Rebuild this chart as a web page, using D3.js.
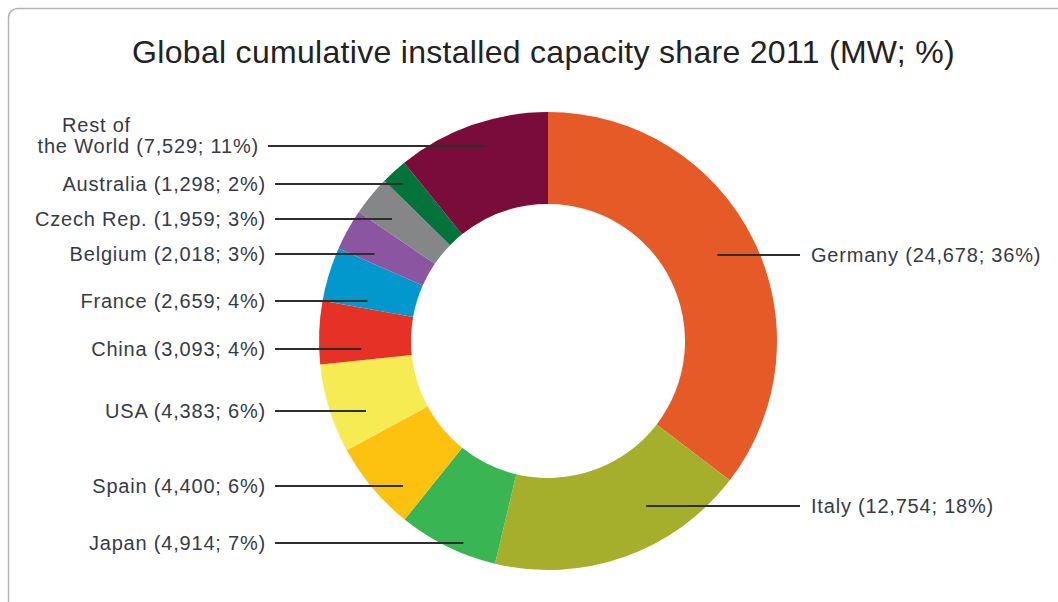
<!DOCTYPE html>
<html>
<head>
<meta charset="utf-8">
<script src="https://cdn.jsdelivr.net/npm/d3@7"></script>
<style>
  html, body { margin: 0; padding: 0; background: #fff; }
  svg { display: block; }
</style>
</head>
<body>
<svg id="chart" width="1058" height="602"></svg>
<script>
// ---- data ----
const countries = ["Germany", "Italy", "Japan", "Spain", "USA", "China", "France", "Belgium", "Czech Rep.", "Australia", "Rest of the World"];
const capacityMW = [24678, 12754, 4914, 4400, 4383, 3093, 2659, 2018, 1959, 1298, 7529];
const sharePct = [36, 18, 7, 6, 6, 4, 4, 3, 3, 2, 11];
const colors = ["#E65A28", "#A6AF2B", "#3AB554", "#FDC10F", "#F6EB52", "#E53126", "#0398CD", "#8C55A2", "#858688", "#03723B", "#790C38"];
const titleText = "Global cumulative installed capacity share 2011 (MW; %)";

// ---- layout (annotation placement) ----
const labelSide = ["right", "right", "left", "left", "left", "left", "left", "left", "left", "left", "left"];
const labelY = [255, 506, 543, 486, 411, 349, 301, 254, 219, 184, 146];
const leaderR = [190, 192, 219, 205, 195, 187, 185, 194, 198, 214, 205];

const W = 1058, H = 602;
const cx = 548, cy = 341, rOuter = 229, rInner = 137;
const svg = d3.select("#chart");

// frame
svg.append("rect")
  .attr("x", 8.5).attr("y", 8.5)
  .attr("width", 1100).attr("height", 700)
  .attr("rx", 9).attr("ry", 9)
  .attr("fill", "none").attr("stroke", "#b4b4b4").attr("stroke-width", 1.5);

// title
svg.append("text")
  .attr("x", 543.5).attr("y", 63)
  .attr("text-anchor", "middle")
  .attr("font-family", "'Liberation Sans', Arial, sans-serif")
  .attr("font-size", 32).attr("letter-spacing", 0.3)
  .attr("fill", "#222")
  .text(titleText);

const fmt = d3.format(",");
const data = countries.map((c, i) => ({ name: c, value: capacityMW[i], pct: sharePct[i], color: colors[i], i }));

const pie = d3.pie().sort(null).value(d => d.value);
const arc = d3.arc().innerRadius(rInner).outerRadius(rOuter);

const g = svg.append("g").attr("transform", `translate(${cx},${cy})`);
g.selectAll("path").data(pie(data)).join("path")
  .attr("d", arc)
  .attr("fill", d => d.data.color);

// leaders and labels
const font = "'Liberation Sans', Arial, sans-serif";
data.forEach((d, i) => {
  const y = labelY[i];
  const dy = y - cy;
  const dx = Math.sqrt(Math.max(0, leaderR[i] * leaderR[i] - dy * dy));
  const left = labelSide[i] === "left";
  const endX = left ? cx - dx : cx + dx;
  const isRest = d.name === "Rest of the World";
  const startX = left ? (isRest ? 268 : 275) : 800;
  svg.append("line")
    .attr("x1", startX).attr("x2", endX)
    .attr("y1", y).attr("y2", y)
    .attr("stroke", "#2e2e2e").attr("stroke-width", 2);

  const lbl = `(${fmt(d.value)}; ${d.pct}%)`;
  const t = svg.append("text")
    .attr("font-family", font).attr("font-size", 20).attr("letter-spacing", 0.8)
    .attr("fill", "#353b45");
  if (isRest) {
    svg.append("text")
      .attr("x", 62).attr("y", y - 21).attr("dy", "0.35em")
      .attr("text-anchor", "start")
      .attr("font-family", font).attr("font-size", 20).attr("letter-spacing", 0.8)
      .attr("fill", "#353b45")
      .text("Rest of");
    t.attr("x", 259).attr("y", y).attr("dy", "0.35em").attr("text-anchor", "end")
      .text(`the World ${lbl}`);
  } else if (left) {
    t.attr("x", 266).attr("y", y).attr("dy", "0.35em").attr("text-anchor", "end")
      .text(`${d.name} ${lbl}`);
  } else {
    t.attr("x", 811).attr("y", y).attr("dy", "0.35em").attr("text-anchor", "start")
      .text(`${d.name} ${lbl}`);
  }
});
</script>
</body>
</html>
